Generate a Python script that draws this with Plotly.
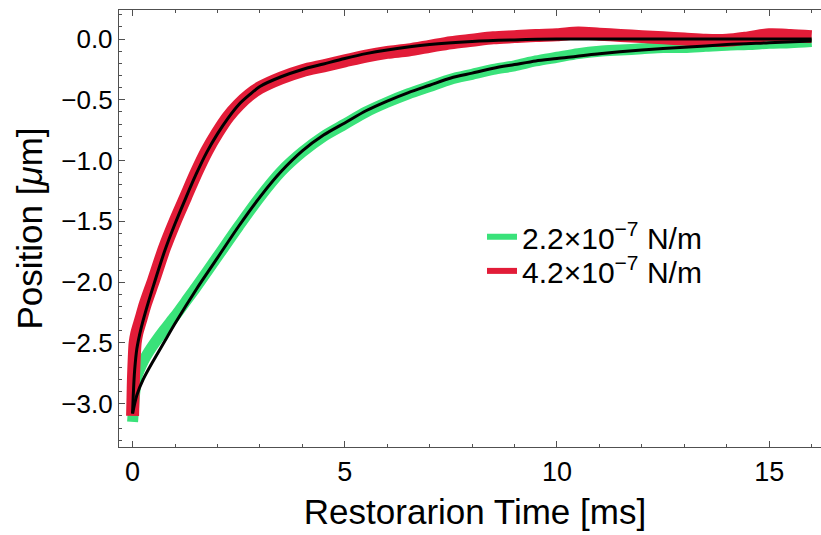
import plotly.graph_objects as go

# ---- data ----
green_t = [0.0, 0.02, 0.04, 0.07, 0.1, 0.2, 0.3, 0.5, 0.75, 1.0, 1.25, 1.5, 2.0, 2.5, 3.0, 3.5,
           4.0, 4.5, 5.0, 5.5, 6.0, 6.5, 7.0, 7.5, 8.0, 8.5, 9.0, 9.5, 10.0, 10.5, 11.0, 11.5,
           12.0, 12.5, 13.0, 13.5, 14.0, 14.5, 15.0, 15.5, 16.0]
green_y = [-3.15, -3.05, -2.95, -2.85, -2.78, -2.69, -2.62, -2.51, -2.39, -2.28, -2.16, -2.04,
           -1.79, -1.54, -1.30, -1.09, -0.93, -0.80, -0.70, -0.60, -0.52, -0.45, -0.39, -0.33,
           -0.29, -0.25, -0.22, -0.18, -0.15, -0.12, -0.10, -0.09, -0.08, -0.07, -0.07, -0.06,
           -0.05, -0.045, -0.035, -0.03, -0.02]

red_t = [0.0, 0.01, 0.02, 0.04, 0.06, 0.1, 0.2, 0.3, 0.5, 0.75, 1.0, 1.25, 1.5, 1.75, 2.0,
         2.25, 2.5, 2.75, 3.0, 3.5, 4.0, 4.5, 5.0, 5.5, 6.0, 6.5, 7.0, 7.5, 8.0, 8.5, 9.0, 9.5,
         10.0, 10.5, 11.0, 11.5, 12.0, 12.5, 13.0, 13.5, 14.0, 14.5, 15.0, 15.5, 16.0]
red_y = [-3.10, -2.95, -2.80, -2.62, -2.50, -2.42, -2.30, -2.18, -1.98, -1.72, -1.50, -1.30,
         -1.10, -0.92, -0.77, -0.64, -0.54, -0.46, -0.40, -0.32, -0.26, -0.22, -0.18, -0.14,
         -0.11, -0.09, -0.06, -0.03, -0.01, 0.01, 0.02, 0.03, 0.035, 0.05, 0.04, 0.03, 0.02,
         0.01, 0.0, -0.01, -0.01, 0.01, 0.035, 0.03, 0.02]

green_fit_t = [0.0, 0.1, 0.25, 0.5, 0.75, 1.0, 1.5, 2.0, 2.5, 3.0, 3.5, 4.0, 4.5, 5.0, 5.5,
               6.0, 6.5, 7.0, 7.5, 8.0, 8.5, 9.0, 9.5, 10.0, 11.0, 12.0, 13.0, 14.0, 15.0, 16.0]
green_fit_y = [-3.08, -2.93, -2.80, -2.64, -2.49, -2.34, -2.06, -1.80, -1.54, -1.30, -1.09,
               -0.92, -0.79, -0.69, -0.59, -0.51, -0.44, -0.38, -0.32, -0.28, -0.24, -0.21,
               -0.18, -0.16, -0.12, -0.09, -0.068, -0.045, -0.03, -0.015]

red_fit_t = [0.0, 0.02, 0.05, 0.1, 0.2, 0.3, 0.5, 0.75, 1.0, 1.25, 1.5, 1.75, 2.0, 2.25, 2.5,
             2.75, 3.0, 3.5, 4.0, 4.5, 5.0, 5.5, 6.0, 7.0, 8.0, 9.0, 10.0, 12.0, 14.0, 16.0]
red_fit_y = [-3.08, -2.90, -2.72, -2.55, -2.38, -2.25, -2.02, -1.75, -1.52, -1.31, -1.11,
             -0.93, -0.78, -0.65, -0.54, -0.46, -0.39, -0.31, -0.25, -0.205, -0.16, -0.12,
             -0.09, -0.045, -0.02, -0.007, 0.0, 0.0, 0.0, 0.0]

legend_labels = ["2.2×10<sup>−7</sup> N/m", "4.2×10<sup>−7</sup> N/m"]
x_ticks = [0, 5, 10, 15]
y_ticks = [0.0, -0.5, -1.0, -1.5, -2.0, -2.5, -3.0]

GREEN = "rgb(58,226,122)"
RED = "rgb(226,28,56)"
FRAME = "#505050"
FONT = "Liberation Sans, Arial, sans-serif"

fig = go.Figure()
fig.add_trace(go.Scatter(x=green_t, y=green_y, mode="lines", showlegend=False,
                         line=dict(color=GREEN, width=11, shape="spline", smoothing=0.8),
                         hoverinfo="skip"))
fig.add_trace(go.Scatter(x=red_t, y=red_y, mode="lines", showlegend=False,
                         line=dict(color=RED, width=13, shape="spline", smoothing=0.8),
                         hoverinfo="skip"))
fig.add_trace(go.Scatter(x=green_fit_t, y=green_fit_y, mode="lines", showlegend=False,
                         line=dict(color="black", width=3, shape="spline", smoothing=0.8),
                         hoverinfo="skip"))
fig.add_trace(go.Scatter(x=red_fit_t, y=red_fit_y, mode="lines", showlegend=False,
                         line=dict(color="black", width=3, shape="spline", smoothing=0.8),
                         hoverinfo="skip"))
# legend entries (one legend box each, for exact row spacing)
fig.add_trace(go.Scatter(x=[None], y=[None], mode="lines", name=legend_labels[0],
                         line=dict(color=GREEN, width=6), legend="legend"))
fig.add_trace(go.Scatter(x=[None], y=[None], mode="lines", name=legend_labels[1],
                         line=dict(color=RED, width=6), legend="legend2"))

# plot area spans x 119..831 (extends past the 821-px window, like the cropped reference)
PLOT_W = 831 - 119
leg_x = (482 - 119) / PLOT_W
leg_common = dict(xanchor="left", yanchor="middle", bgcolor="rgba(0,0,0,0)",
                  font=dict(size=30), itemwidth=30)
fig.update_layout(
    width=831, height=535,
    margin=dict(l=119, r=0, t=10, b=88),
    paper_bgcolor="white", plot_bgcolor="white",
    font=dict(family=FONT, size=26, color="black"),
    legend=dict(x=leg_x, y=0.481, **leg_common),
    legend2=dict(x=leg_x, y=0.403, **leg_common),
    hovermode=False,
)
fig.update_xaxes(
    range=[-0.32, -0.32 + PLOT_W / 42.44], showgrid=False, zeroline=False, automargin=False,
    showline=True, linecolor=FRAME, linewidth=1.2, mirror="ticks",
    ticks="inside", ticklen=6, tickcolor=FRAME, tickwidth=1,
    tickvals=x_ticks, ticktext=[str(v) for v in x_ticks],
    minor=dict(dtick=1, tick0=0, ticks="inside", ticklen=3, tickcolor=FRAME, showgrid=False),
    tickfont=dict(size=27),
    title=dict(text="Restorarion Time [ms]", font=dict(size=35), standoff=14),
)
fig.update_yaxes(
    range=[-3.356, 0.239], showgrid=False, zeroline=False, automargin=False,
    showline=True, linecolor=FRAME, linewidth=1.2, mirror=False,
    ticks="inside", ticklen=6, tickcolor=FRAME, tickwidth=1,
    tickvals=y_ticks, ticktext=[f"{v:.1f}".replace("-", "−") for v in y_ticks],
    minor=dict(dtick=0.1, tick0=0, ticks="inside", ticklen=3, tickcolor=FRAME, showgrid=False),
    tickfont=dict(size=26),
    title=dict(text="Position [<i>μ</i>m]", font=dict(size=35), standoff=8),
)

fig.write_html("out.html", config={"displayModeBar": False, "staticPlot": True},
               post_script="document.body.style.margin='0';document.body.style.padding='0';"
                           "document.body.style.overflow='hidden';")
